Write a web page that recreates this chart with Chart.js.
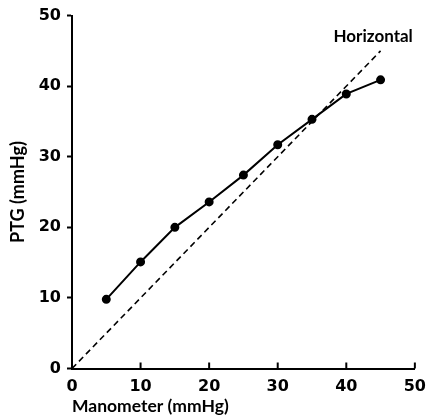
<!DOCTYPE html>
<html>
<head>
<meta charset="utf-8">
<script src="https://cdn.jsdelivr.net/npm/chart.js@4/dist/chart.umd.min.js"></script>
<style>
  html, body { margin: 0; padding: 0; background: #fff; }
  #wrap { width: 435px; height: 417px; }
</style>
</head>
<body>
<div id="wrap"><canvas id="c" width="435" height="417"></canvas></div>
<script>
const manometer = [5, 10, 15, 20, 25, 30, 35, 40, 45];
const ptg = [9.8, 15.1, 20, 23.6, 27.4, 31.7, 35.3, 38.9, 40.9];
const identityX = [0, 45];
const identityY = [0, 45];
const axisTicks = [0, 10, 20, 30, 40, 50];
const lineLabel = 'Horizontal';

const FONT = 'Lato, "DejaVu Sans", sans-serif';
const TICKFONT = '"DejaVu Sans", sans-serif';

function pairs(xs, ys) {
  return xs.map((x, i) => ({ x: x, y: ys[i] }));
}

// x axis ticks point up into the plot, chart.js only draws them outward
const extras = {
  id: 'extras',
  afterDraw(chart) {
    const ctx = chart.ctx;
    const xs = chart.scales.x, ys = chart.scales.y;
    ctx.save();
    ctx.strokeStyle = '#000';
    ctx.lineWidth = 2;
    axisTicks.forEach(v => {
      const px = xs.getPixelForValue(v);
      ctx.beginPath();
      ctx.moveTo(px, ys.bottom);
      ctx.lineTo(px, ys.bottom - 6);
      ctx.stroke();
    });
    ctx.fillStyle = '#000';
    ctx.font = 'bold 17px ' + FONT;
    ctx.textAlign = 'right';
    ctx.textBaseline = 'middle';
    ctx.fillText(lineLabel, xs.getPixelForValue(49.7), ys.getPixelForValue(47.1));
    ctx.restore();
  }
};

new Chart(document.getElementById('c'), {
  type: 'scatter',
  data: {
    datasets: [
      {
        data: pairs(manometer, ptg),
        showLine: true,
        borderColor: '#000',
        backgroundColor: '#000',
        borderWidth: 2,
        pointRadius: 3.5,
        pointHoverRadius: 3.5
      },
      {
        data: pairs(identityX, identityY),
        showLine: true,
        borderColor: '#000',
        borderWidth: 1.6,
        borderDash: [6, 4],
        pointRadius: 0
      }
    ]
  },
  options: {
    responsive: false,
    animation: false,
    events: [],
    layout: { padding: { top: 14, right: 13.5, left: 0, bottom: 0 } },
    plugins: { legend: { display: false }, tooltip: { enabled: false } },
    scales: {
      x: {
        type: 'linear',
        min: 0, max: 50,
        afterBuildTicks: s => { s.ticks = axisTicks.map(v => ({ value: v })); },
        afterFit: s => { s.height = 48.5; },
        grid: { display: true, drawOnChartArea: false, drawTicks: false },
        border: { display: true, color: '#000', width: 2 },
        ticks: { color: '#000', padding: 9, font: { family: TICKFONT, size: 16, weight: 'bold' }, maxRotation: 0 },
        title: {
          display: true, text: 'Manometer (mmHg)', align: 'start', color: '#000',
          padding: { top: 0, bottom: 0 },
          font: { family: FONT, size: 17.5, weight: 'bold' }
        }
      },
      y: {
        type: 'linear',
        min: 0, max: 50,
        afterBuildTicks: s => { s.ticks = axisTicks.map(v => ({ value: v })); },
        afterFit: s => { s.width = 72; },
        grid: { display: true, drawOnChartArea: false, drawTicks: true, tickLength: 5, color: '#000', tickWidth: 2 },
        border: { display: true, color: '#000', width: 2 },
        ticks: { color: '#000', padding: 6, font: { family: TICKFONT, size: 16, weight: 'bold' } },
        title: {
          display: true, text: 'PTG (mmHg)', color: '#000',
          padding: { top: 7, bottom: 0 },
          font: { family: FONT, size: 18, weight: 'bold' }
        }
      }
    }
  },
  plugins: [extras]
});
</script>
</body>
</html>
